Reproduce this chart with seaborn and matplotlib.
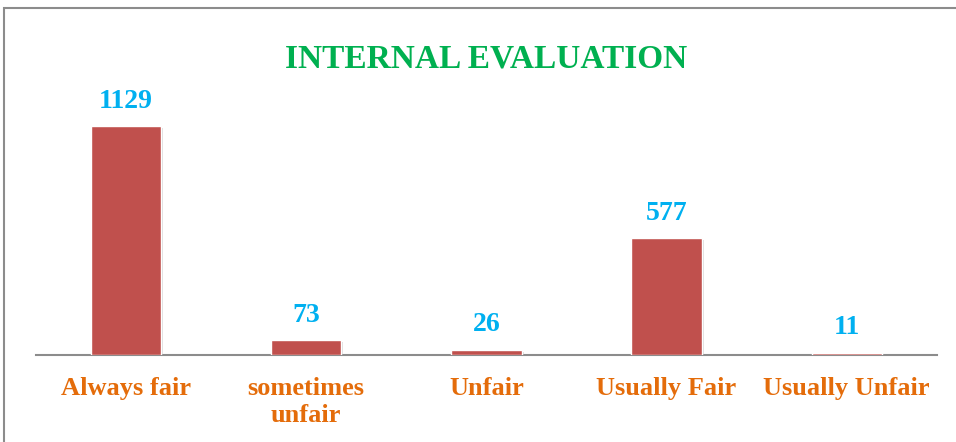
import matplotlib
matplotlib.use("Agg")
import matplotlib.pyplot as plt
import matplotlib.patheffects as pe
from matplotlib.patches import Rectangle
import seaborn as sns

# data
categories = ["Always fair", "sometimes\nunfair", "Unfair", "Usually Fair", "Usually Unfair"]
counts = [1129, 73, 26, 577, 11]

sns.set_style("white")
plt.rcParams["font.family"] = ["Liberation Serif", "DejaVu Serif"]

fig = plt.figure(figsize=(9.56, 4.42), dpi=100)
ax = fig.add_axes([0.0375, 0.197, 0.9425, 0.596])

sns.barplot(x=categories, y=counts, color="#C0504D", width=0.39, saturation=1, ax=ax)

# light shadow behind the bars
for p in ax.patches:
    p.set_path_effects([pe.SimplePatchShadow(offset=(1.5, -1.5), shadow_rgbFace="#999999", alpha=0.35),
                        pe.Normal()])

ax.bar_label(ax.containers[0], labels=[str(v) for v in counts], padding=9,
             color="#00B0F0", fontsize=20, fontweight="bold")

ax.set_xlim(-0.5, 4.5)
ax.set_ylim(0, 1300)
ax.set_yticks([])
ax.set_xlabel("")
ax.set_ylabel("")
for s in ["top", "right", "left"]:
    ax.spines[s].set_visible(False)
ax.spines["bottom"].set_color("#8C8C8C")
ax.spines["bottom"].set_linewidth(1.5)
ax.spines["bottom"].set_zorder(0.5)
ax.tick_params(axis="x", length=0, pad=16, labelsize=19, labelcolor="#E46C0A")
for t in ax.get_xticklabels():
    t.set_fontweight("bold")

fig.text(0.509, 0.866, "INTERNAL EVALUATION", ha="center", va="center",
         color="#00B050", fontsize=24, fontweight="bold")

# chart frame (top and left edges visible)
fig.patches.append(Rectangle((4 / 956, -0.2), 2.0, (442 - 8) / 442 + 0.2,
                             transform=fig.transFigure, fill=False,
                             edgecolor="#8C8C8C", linewidth=1.5))

fig.savefig("out.png", dpi=100)
